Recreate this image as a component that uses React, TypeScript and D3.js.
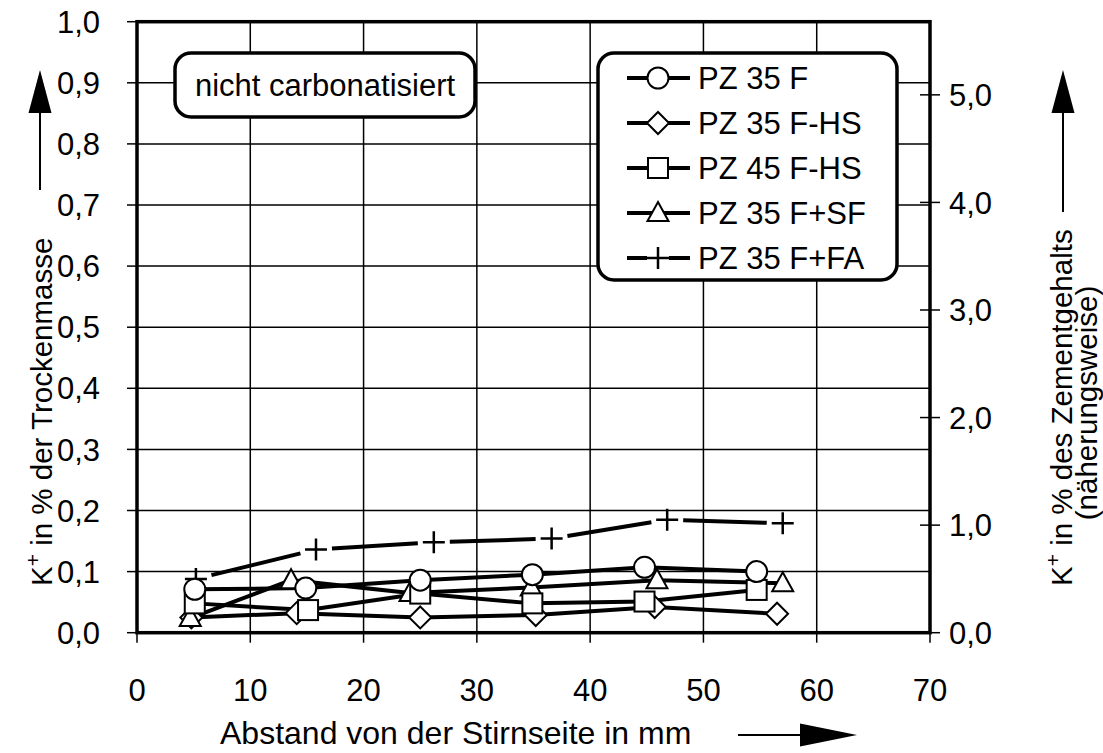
import React from "react";
import * as d3 from "d3";

const W = 1103;
const H = 753;

const xTicks = [0, 10, 20, 30, 40, 50, 60, 70];
const yTicksLeft = [0, 0.1, 0.2, 0.3, 0.4, 0.5, 0.6, 0.7, 0.8, 0.9, 1.0];
const yTicksRight = [0, 1, 2, 3, 4, 5];

const seriesNames = ["PZ 35 F", "PZ 35 F-HS", "PZ 45 F-HS", "PZ 35 F+SF", "PZ 35 F+FA"];
const seriesSymbols = ["circle", "diamond", "square", "triangle", "plus"];

const pz35fX = [5.1, 14.9, 25.0, 34.9, 44.8, 54.7];
const pz35fY = [0.071, 0.073, 0.086, 0.095, 0.107, 0.100];
const pz35fhsX = [4.8, 14.1, 25.0, 35.2, 45.7, 56.5];
const pz35fhsY = [0.025, 0.032, 0.025, 0.029, 0.042, 0.031];
const pz45fhsX = [5.1, 15.1, 25.0, 34.9, 44.8, 54.7];
const pz45fhsY = [0.048, 0.037, 0.064, 0.048, 0.051, 0.070];
const pz35fsfX = [4.7, 13.6, 24.1, 34.8, 45.9, 57.0];
const pz35fsfY = [0.024, 0.086, 0.065, 0.074, 0.086, 0.081];
const pz35ffaX = [5.2, 15.8, 26.2, 36.6, 46.8, 57.0];
const pz35ffaY = [0.088, 0.136, 0.148, 0.154, 0.185, 0.179];

const seriesX = [pz35fX, pz35fhsX, pz45fhsX, pz35fsfX, pz35ffaX];
const seriesY = [pz35fY, pz35fhsY, pz45fhsY, pz35fsfY, pz35ffaY];

const FONT = "'Liberation Sans', Arial, Helvetica, sans-serif";

const fmt = (v: number, d: number) => v.toFixed(d).replace(".", ",");

function Marker({ type, x, y }: { type: string; x: number; y: number }) {
  const s = 2;
  if (type === "circle") return <circle cx={x} cy={y} r={10.5} fill="#fff" stroke="#000" strokeWidth={s} />;
  if (type === "square") return <rect x={x - 10} y={y - 10} width={20} height={20} fill="#fff" stroke="#000" strokeWidth={s} />;
  if (type === "diamond")
    return <path d={`M${x},${y - 11}L${x + 11},${y}L${x},${y + 11}L${x - 11},${y}Z`} fill="#fff" stroke="#000" strokeWidth={s} />;
  if (type === "triangle")
    return <path d={`M${x},${y - 11}L${x + 10.5},${y + 8}L${x - 10.5},${y + 8}Z`} fill="#fff" stroke="#000" strokeWidth={s} />;
  return (
    <path d={`M${x - 11},${y}H${x + 11}M${x},${y - 11}V${y + 11}`} fill="none" stroke="#000" strokeWidth={2.5} />
  );
}

export default function App() {
  const x = d3.scaleLinear().domain([0, 70]).range([137, 930]);
  const y = d3.scaleLinear().domain([0, 1]).range([632.7, 21.7]);
  const yR = d3.scaleLinear().domain([0, 5.68]).range([632.7, 21.7]);

  const line = d3.line<[number, number]>().x((d) => x(d[0])).y((d) => y(d[1]));

  const pts = (i: number) => seriesX[i].map((v, j) => [v, seriesY[i][j]] as [number, number]);

  // dashed series: segments shortened around markers
  const gapSegs = (i: number, gap: number) => {
    const p = pts(i).map((d) => [x(d[0]), y(d[1])]);
    const segs: string[] = [];
    for (let k = 0; k < p.length - 1; k++) {
      const [x1, y1] = p[k];
      const [x2, y2] = p[k + 1];
      const L = Math.hypot(x2 - x1, y2 - y1);
      const ux = (x2 - x1) / L, uy = (y2 - y1) / L;
      segs.push(`M${x1 + ux * gap},${y1 + uy * gap}L${x2 - ux * gap},${y2 - uy * gap}`);
    }
    return segs.join("");
  };

  const drawOrder = [4, 1, 3, 2, 0];

  const legX = 598, legY = 53, legW = 299, legH = 227;
  const legRows = [78, 123, 168, 213, 258];
  const TICK = 31;
  const TXT = 31;
  const TITLE = 29.5;

  return (
    <svg width={W} height={H} style={{ position: "absolute", left: 0, top: 0, background: "#fff" }} fontFamily={FONT}>
      <rect x={0} y={0} width={W} height={H} fill="#fff" />
      {/* grid */}
      {yTicksLeft.filter((t) => t > 0 && t < 1).map((t) => (
        <line key={"gy" + t} x1={x(0)} x2={x(70)} y1={y(t)} y2={y(t)} stroke="#000" strokeWidth={1.5} />
      ))}
      {xTicks.filter((t) => t > 0 && t < 70).map((t) => (
        <line key={"gx" + t} x1={x(t)} x2={x(t)} y1={y(0)} y2={y(1)} stroke="#000" strokeWidth={1.5} />
      ))}
      {/* left ticks */}
      {yTicksLeft.map((t) => (
        <g key={"ly" + t}>
          <line x1={x(0) - 10} x2={x(0)} y1={y(t)} y2={y(t)} stroke="#000" strokeWidth={1.5} />
          <text x={100} y={y(t)} dy="0.36em" textAnchor="end" fontSize={TICK}>{fmt(t, 1)}</text>
        </g>
      ))}
      {/* right ticks */}
      {yTicksRight.map((t) => (
        <g key={"ry" + t}>
          <line x1={x(70) - 10} x2={x(70) + 10} y1={yR(t)} y2={yR(t)} stroke="#000" strokeWidth={1.5} />
          <text x={949} y={yR(t)} dy="0.36em" textAnchor="start" fontSize={TICK}>{fmt(t, 1)}</text>
        </g>
      ))}
      {/* bottom ticks */}
      {xTicks.map((t) => (
        <g key={"bx" + t}>
          <line x1={x(t)} x2={x(t)} y1={y(0)} y2={y(0) + 10} stroke="#000" strokeWidth={1.5} />
          <text x={x(t)} y={701} textAnchor="middle" fontSize={TICK}>{t}</text>
        </g>
      ))}
      {/* frame */}
      <rect x={x(0)} y={y(1)} width={x(70) - x(0)} height={y(0) - y(1)} fill="none" stroke="#000" strokeWidth={3.5} />

      {/* annotation box */}
      <rect x={175} y={53} width={300} height={64} rx={16} fill="#fff" stroke="#000" strokeWidth={3.5} />
      <text x={325} y={96} textAnchor="middle" fontSize={TXT}>nicht carbonatisiert</text>

      {/* legend */}
      <rect x={legX} y={legY} width={legW} height={legH} rx={16} fill="#fff" stroke="#000" strokeWidth={3.5} />
      {seriesNames.map((n, i) => (
        <g key={"leg" + i}>
          {seriesSymbols[i] === "plus" ? (
            <path d={`M627,${legRows[i]}H647M669,${legRows[i]}H690`} stroke="#000" strokeWidth={4} />
          ) : (
            <line x1={627} x2={690} y1={legRows[i]} y2={legRows[i]} stroke="#000" strokeWidth={4} />
          )}
          <Marker type={seriesSymbols[i]} x={658} y={legRows[i]} />
          <text x={698} y={legRows[i]} dy="0.36em" fontSize={TXT}>{n}</text>
        </g>
      ))}

      {/* series lines */}
      {[0, 1, 2, 3].map((i) => (
        <path key={"ln" + i} d={line(pts(i)) || ""} fill="none" stroke="#000" strokeWidth={4} />
      ))}
      <path d={gapSegs(4, 16)} fill="none" stroke="#000" strokeWidth={4} />
      {/* markers */}
      {drawOrder.map((i) =>
        pts(i).map((d, j) => <Marker key={"m" + i + "-" + j} type={seriesSymbols[i]} x={x(d[0])} y={y(d[1])} />)
      )}

      {/* left title */}
      <text transform="translate(52,586) rotate(-90)" fontSize={TITLE}>
        K<tspan fontSize={21} dy={-12}>+</tspan><tspan dy={12}> in % der Trockenmasse</tspan>
      </text>
      <line x1={40} x2={40} y1={190} y2={105} stroke="#000" strokeWidth={2} />
      <path d="M40,70L51.5,113L28.5,113Z" fill="#000" />

      {/* right title */}
      <text transform="translate(1072,586) rotate(-90)" fontSize={TITLE}>
        K<tspan fontSize={21} dy={-12}>+</tspan><tspan dy={12}> in % des Zementgehalts</tspan>
      </text>
      <text transform="translate(1097,403) rotate(-90)" textAnchor="middle" fontSize={TITLE}>(näherungsweise)</text>
      <line x1={1063} x2={1063} y1={212} y2={105} stroke="#000" strokeWidth={2} />
      <path d="M1063,70L1074.5,113L1051.5,113Z" fill="#000" />

      {/* bottom title */}
      <text x={220} y={744} fontSize={32}>Abstand von der Stirnseite in mm</text>
      <line x1={738} x2={805} y1={735} y2={735} stroke="#000" strokeWidth={2} />
      <path d="M857,735L800,723.5L800,746.5Z" fill="#000" />
    </svg>
  );
}
